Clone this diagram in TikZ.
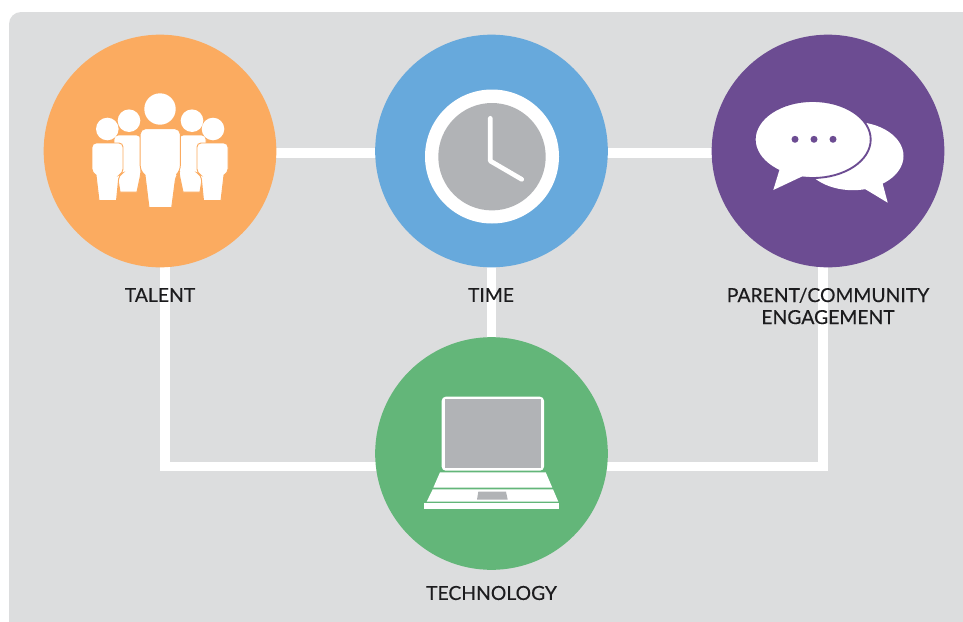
\documentclass[tikz,border=0pt]{standalone}
\usepackage{fontspec}
\setmainfont{Lato}[FakeBold=0.35]
\usetikzlibrary{backgrounds}
\definecolor{panelgrey}{HTML}{DCDDDE}
\definecolor{iconorange}{HTML}{FBAB60}
\definecolor{iconblue}{HTML}{67A9DC}
\definecolor{iconpurple}{HTML}{6C4C92}
\definecolor{icongreen}{HTML}{63B679}
\definecolor{icongrey}{HTML}{B1B3B6}
\definecolor{inktext}{HTML}{1C1C1E}
\tikzset{
  hub/.style={circle,minimum size=174.5pt,inner sep=0pt,outer sep=0pt},
  caption/.style={text=inktext,font=\fontsize{14.5pt}{16.5pt}\selectfont,align=center,inner sep=0pt},
  linkline/.style={draw=white,line width=7.1pt,line join=miter},
  personbody/.style={fill=white,draw=iconorange,line width=0.7pt},
}
\begin{document}
\begin{tikzpicture}[x=0.75pt,y=-0.75pt]
\useasboundingbox (0,0) rectangle (963,621);
\node[hub,fill=iconorange] (talent) at (160,151) {};
\node[hub,fill=iconblue] (time) at (491.5,151) {};
\node[hub,fill=iconpurple] (parent) at (828,151) {};
\node[hub,fill=icongreen] (tech) at (491.5,453.5) {};
\begin{scope}[on background layer]
  \fill[panelgrey,rounded corners=9pt] (9,640) -- (9,12) -- (980,12) -- (980,640) -- cycle;
  \draw[linkline] ([yshift=-1.5pt]talent.center) -- ([yshift=-1.5pt]time.center);
  \draw[linkline] ([yshift=-1.5pt]time.center) -- ([yshift=-1.5pt]parent.center);
  \draw[linkline] (time.center) -- (tech.center);
  \draw[linkline] ([xshift=3.75pt]talent.center) |- ([yshift=-9.75pt]tech.center);
  \draw[linkline] ([xshift=-3.75pt]parent.center) |- ([yshift=-9.75pt]tech.center);
\end{scope}
% people
\fill[white] (129,120.7) circle[radius=11.3];
\fill[white] (192,120.7) circle[radius=11.3];
\path[personbody] (120,192) -- (117,173) [rounded corners=3pt] -- (114,171) -- (114,135) -- (141,135) -- (141,173) [sharp corners] -- (137,192) -- cycle;
\path[personbody] (200,192) -- (203,173) [rounded corners=3pt] -- (206,171) -- (206,135) -- (179,135) -- (179,173) [sharp corners] -- (183,192) -- cycle;
\fill[white] (107.3,129) circle[radius=11.3];
\fill[white] (213,129) circle[radius=11.3];
\path[personbody] (99,200.5) -- (96,175) [rounded corners=3pt] -- (92,173) -- (92,143) -- (123,143) -- (123,173) -- (119,175) [sharp corners] -- (116.5,200.5) -- cycle;
\path[personbody] (221,200.5) -- (224,175) [rounded corners=3pt] -- (228,173) -- (228,143) -- (197,143) -- (197,173) -- (201,175) [sharp corners] -- (203.5,200.5) -- cycle;
\fill[white] (160,109) circle[radius=15.7];
\path[personbody] (149,207.5) -- (145,175) [rounded corners=4pt] -- (140.2,171) -- (140.2,128.7) -- (180.3,128.7) -- (180.3,171) -- (176,175) [sharp corners] -- (171.7,207.5) -- cycle;
% clock
\fill[white] (492,156.5) circle[radius=67];
\fill[icongrey] (492,156.7) circle[radius=53.7];
\draw[white,line width=3.5pt,line cap=round,line join=round] (490.3,118.3) -- (490.3,161) -- (521.7,179.3);
% speech bubbles
\fill[white] (853,156) ellipse[x radius=50.5,y radius=34.2];
\fill[white] (860,186) -- (887.7,202.7) -- (881.7,180) -- cycle;
\path[fill=white,draw=iconpurple,line width=1.4pt] (812.7,139.5) ellipse[x radius=58,y radius=38.5];
\fill[white] (780,168) -- (773.3,190) -- (803,176) -- cycle;
\fill[iconpurple] (795,139.3) circle[radius=3.5] (814,139.3) circle[radius=3.5] (833,139.3) circle[radius=3.5];
% laptop
\fill[white,rounded corners=3pt] (441.7,470.7) -- (441.7,396.7) -- (544,396.7) -- (544,470.7) -- cycle;
\fill[icongrey] (445,399.3) rectangle (540.7,467.7);
\fill[white] (440,472.3) -- (545.7,472.3) -- (552.3,487.7) -- (433.3,487.7) -- cycle;
\fill[white] (432.7,489.3) -- (553,489.3) -- (558.3,501.7) -- (426.7,501.7) -- cycle;
\fill[white] (424,503.3) rectangle (559.3,509.3);
\fill[icongrey] (478.3,491.7) -- (506,491.7) -- (507.7,499.7) -- (477,499.7) -- cycle;
% captions
\node[caption] (talentlabel) at (160,295) {TALENT};
\node[caption] (timelabel) at (491,295) {TIME};
\node[caption] (parentlabel) at (828,306) {PARENT/COMMUNITY\\ENGAGEMENT};
\node[caption] (techlabel) at (491.5,593) {TECHNOLOGY};
\end{tikzpicture}
\end{document}
